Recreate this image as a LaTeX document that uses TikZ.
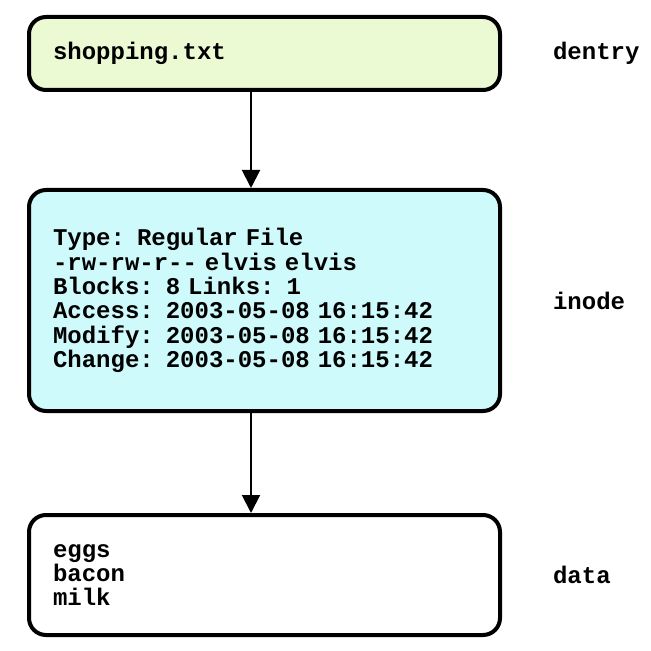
\documentclass[tikz,border=0pt]{standalone}
\usepackage{fontspec}
\setmonofont{Liberation Mono}
\usetikzlibrary{arrows.meta,positioning}
\definecolor{dentryfill}{RGB}{236,250,212}
\definecolor{inodefill}{RGB}{206,250,252}
\newcommand{\boxfont}{\ttfamily\bfseries\fontsize{12}{12.2}\selectfont}

\begin{document}
\begin{tikzpicture}[x=.5pt,y=-.5pt,
	box/.style={draw,line width=2pt,rounded corners=8.5pt,minimum width=235.5pt,
		inner xsep=12pt,text width=211.5pt,align=left,font=\boxfont},
	tag/.style={font=\boxfont},
	link/.style={line width=1pt,-{Triangle[width=9pt,length=9pt]}},
	node distance=22pt]
\useasboundingbox (0,0) rectangle (650,651);
\coordinate (axis) at (251,0);

\node (dentry) at (264.5,53.5) [box,fill=dentryfill,minimum height=36.5pt] {shopping.txt};
\node (inode) at (264.5,300.5) [box,fill=inodefill,minimum height=110.5pt]
	{Type: Regular File\\
	-rw-rw-r-{}- elvis elvis\\
	Blocks: 8 Links: 1\\
	Access: 2003-05-08 16:15:42\\
	Modify: 2003-05-08 16:15:42\\
	Change: 2003-05-08 16:15:42};
\node (data) at (264.5,575) [box,fill=white,minimum height=60pt] {eggs\\bacon\\milk};

\node (dentrytag) [tag,right=of dentry] {dentry};
\node (inodetag) [tag,right=of inode] {inode};
\node (datatag) [tag,right=of data] {data};

\draw[link] (dentry.south -| axis) -- (inode.north -| axis);
\draw[link] (inode.south -| axis) -- (data.north -| axis);
\end{tikzpicture}
\end{document}
